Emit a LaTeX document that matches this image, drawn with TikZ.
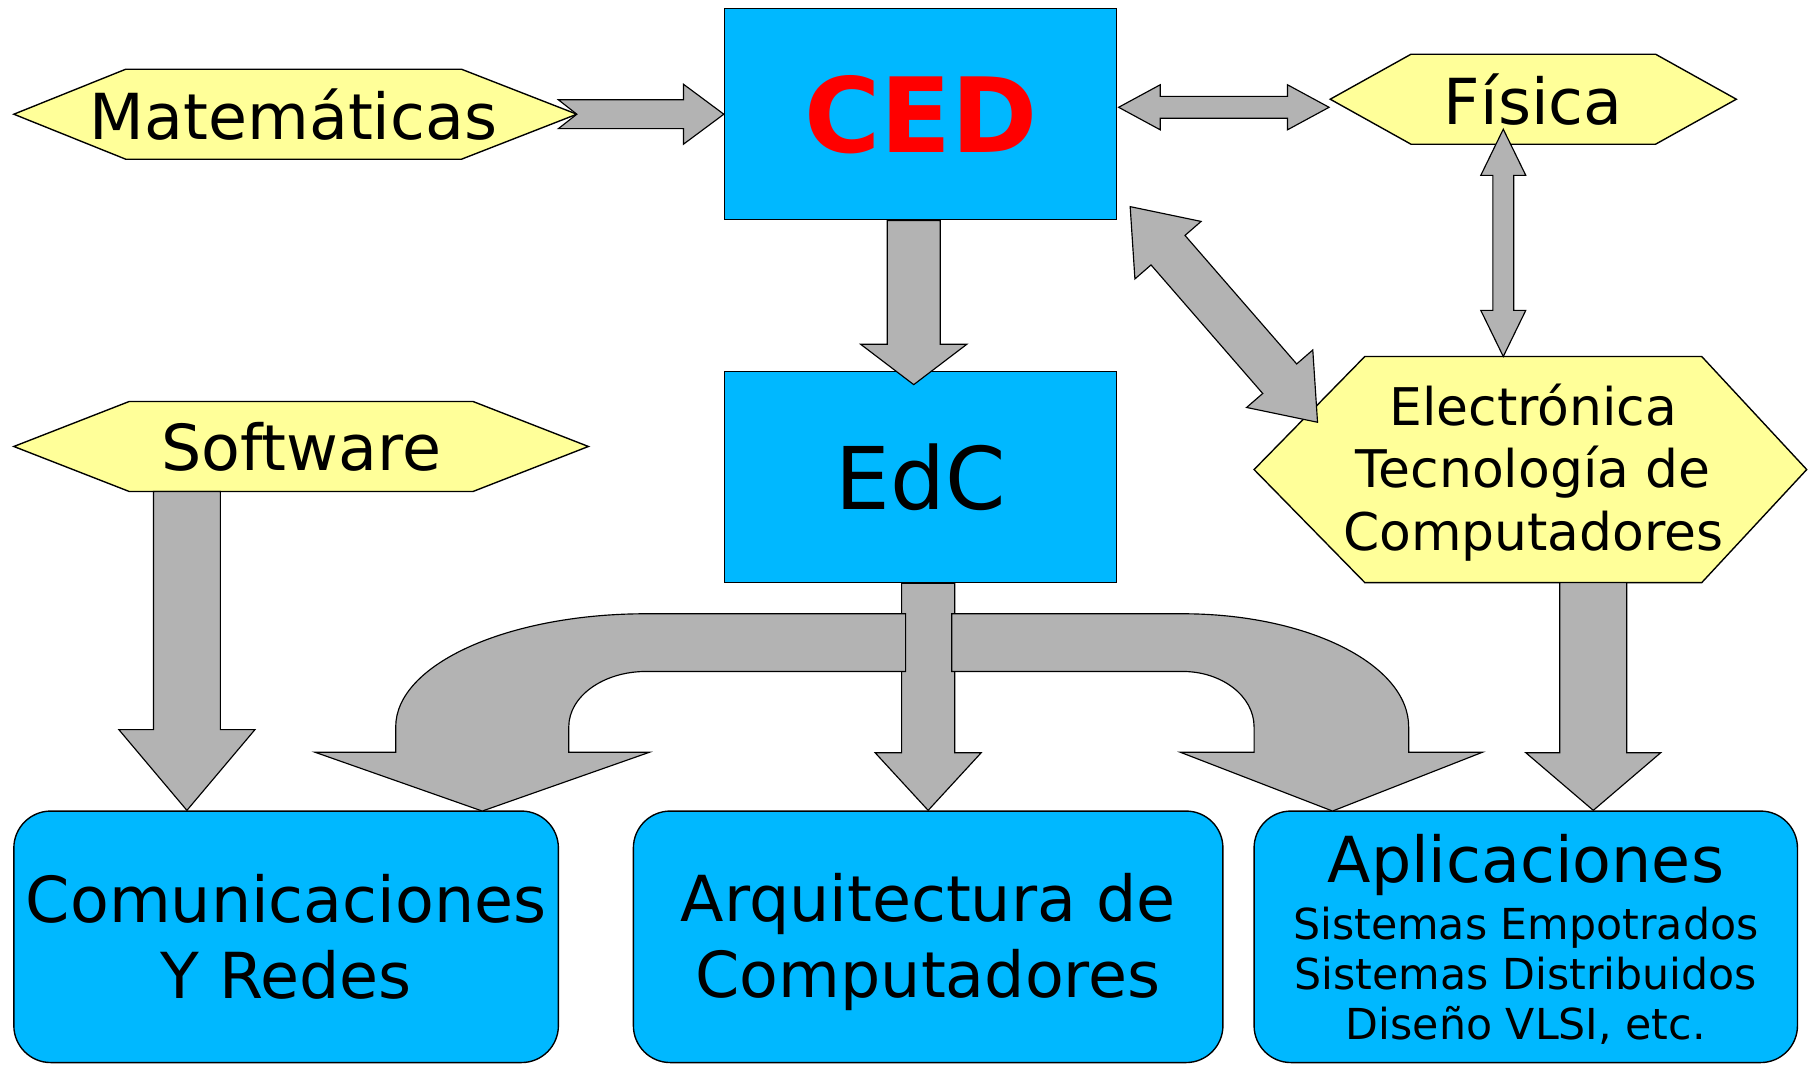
\documentclass[tikz,border=0pt]{standalone}
\usepackage{fontspec}
\setmainfont{DejaVu Sans}
\usetikzlibrary{calc}
\definecolor{boxblue}{RGB}{0,184,255}
\definecolor{hexyellow}{RGB}{255,255,153}
\definecolor{arrowgray}{RGB}{179,179,179}
\tikzset{
  blk/.style={draw=black, fill=arrowgray, line width=1pt, line join=miter},
  hexa/.style={draw=black, fill=hexyellow, line width=1.2pt},
  hexlabel/.style={font=\fontsize{55}{66}\selectfont, inner sep=0pt, align=center},
  sqbox/.style={draw=black, fill=boxblue, line width=1.2pt, minimum width=340pt, minimum height=183pt, inner sep=0pt},
  rbox/.style={draw=black, fill=boxblue, line width=1.2pt, rounded corners=32pt, minimum height=218pt, inner sep=0pt, align=center, font=\fontsize{55}{66}\selectfont}
}
% hexagon label: [opts](name)(centre)(half flat:half height:left tip:right tip){text}
\def\hexnode[#1](#2)(#3)(#4:#5:#6:#7)#8{%
  \coordinate (#2) at (#3);
  \draw[hexa] ($(#2)+(-#4-#6,0)$) coordinate (#2-w) -- ($(#2)+(-#4,-#5)$) -- ($(#2)+(#4,-#5)$) -- ($(#2)+(#4+#7,0)$) coordinate (#2-e) -- ($(#2)+(#4,#5)$) -- ($(#2)+(-#4,#5)$) -- cycle;
  \coordinate (#2-n) at ($(#2)+(0,-#5)$);
  \coordinate (#2-s) at ($(#2)+(0,#5)$);
  \node[hexlabel,#1] (#2) at (#2) {#8};}
% block arrow: (tail)(tip)(shaft:head:head length:notch)
\def\blkarrow(#1)(#2)(#3:#4:#5:#6){%
  \draw[blk] ($(#1)!#3!90:(#2)$)
    -- ($(#2)!#5!(#1)!#3!90:(#2)$)
    -- ($(#2)!#5!(#1)!#4!90:(#2)$)
    -- (#2)
    -- ($(#2)!#5!(#1)!#4!-90:(#2)$)
    -- ($(#2)!#5!(#1)!#3!-90:(#2)$)
    -- ($(#1)!#3!-90:(#2)$)
    -- ($(#1)!#6!(#2)$) -- cycle;}
% double block arrow: (end)(end)(shaft:head:head length)
\def\blkdarrow(#1)(#2)(#3:#4:#5){%
  \draw[blk] (#1)
    -- ($(#1)!#5!(#2)!#4!90:(#2)$)
    -- ($(#1)!#5!(#2)!#3!90:(#2)$)
    -- ($(#2)!#5!(#1)!#3!90:(#2)$)
    -- ($(#2)!#5!(#1)!#4!90:(#2)$)
    -- (#2)
    -- ($(#2)!#5!(#1)!#4!-90:(#2)$)
    -- ($(#2)!#5!(#1)!#3!-90:(#2)$)
    -- ($(#1)!#5!(#2)!#3!-90:(#2)$)
    -- ($(#1)!#5!(#2)!#4!-90:(#2)$)
    -- cycle;}

\begin{document}
\begin{tikzpicture}[x=1pt,y=-1pt]
	\useasboundingbox (0,0) rectangle (1568,923);
	
	\node[sqbox, font=\fontsize{90}{90}\selectfont\bfseries, text=red] (ced) at (798,99) {CED};
	\node[sqbox, font=\fontsize{75}{75}\selectfont] (edc) at (798,413.5) {EdC};
	
	\hexnode[](mat)(254.5,99)(145.5:39:97:100){Matemáticas};
	\hexnode[](fis)(1329,86)(106:39:70:70){Física};
	\hexnode[](sof)(261,387)(149:39:100:100){Software};
	\hexnode[font=\fontsize{45}{54}\selectfont, text depth=4.5pt](ele)(1329,407)(146:98:96:91){Electrónica\\Tecnología de\\Computadores};
	
	\node[rbox, minimum width=472pt] (com) at (248,812) {Comunicaciones\\Y Redes};
	\node[rbox, minimum width=511pt, text depth=3pt] (arq) at (804.5,812) {Arquitectura de\\Computadores};
	\node[rbox, minimum width=471pt, text depth=-3pt, font=\fontsize{37}{43.5}\selectfont] (apl) at (1322.5,812)
		{{\fontsize{55}{66}\selectfont Aplicaciones}\\[6pt]Sistemas Empotrados\\Sistemas Distribuidos\\Diseño VLSI, etc.};
	
	% top arrows
	\coordinate (matT) at ($(mat-e)+(-16,0)$);
	\blkarrow(matT)(ced.west)(12.5pt:26pt:35pt:16pt);
	\coordinate (cfA) at ($(ced.east)+(1,-6)$);
	\coordinate (cfB) at ($(fis-w)+(-1,7)$);
	\blkdarrow(cfA)(cfB)(9.5pt:19.5pt:36pt);
	\coordinate (ceA) at ($(ced.south)+(-6,0)$);
	\coordinate (ceB) at ($(edc.north)+(-6,12)$);
	\blkarrow(ceA)(ceB)(23pt:46pt:35pt:0pt);
	\coordinate (feA) at ($(fis-s)+(-26,-13)$);
	\coordinate (feB) at (feA |- ele-n);
	\blkdarrow(feA)(feB)(9pt:19.5pt:40pt);
	\coordinate (diagA) at ($(ced.south east)+(11,-12)$);
	\coordinate (diagB) at ($(ele-w)+(55,-41)$);
	\blkdarrow(diagA)(diagB)(19.5pt:38pt:50pt);
	
	% bottom arrows
	\coordinate (scA) at ($(sof-s)+(-99,0)$);
	\coordinate (scB) at (scA |- com.north);
	\blkarrow(scA)(scB)(29pt:59pt:70pt:0pt);
	\coordinate (eaA) at ($(ele-s)+(52,0)$);
	\coordinate (eaB) at (eaA |- apl.north);
	\blkarrow(eaA)(eaB)(29pt:58.5pt:50pt:0pt);
	\coordinate (daA) at (arq.north |- edc.south);
	\blkarrow(daA)(arq.north)(23pt:46pt:50pt:0pt);
	
	% curved arrows from EdC
	\draw[blk] (785,532) -- (560,532) arc[start angle=270, end angle=180, x radius=217, y radius=98]
		-- (343,652) -- (273,652) -- (418,703) -- (563,652) -- (493,652) -- (493,630)
		arc[start angle=180, end angle=270, x radius=67, y radius=48] -- (785,582) -- cycle;
	\draw[blk] (825,532) -- (1025,532) arc[start angle=270, end angle=360, x radius=196, y radius=98]
		-- (1221,652) -- (1285,652) -- (1155,703) -- (1023,652) -- (1087,652) -- (1087,630)
		arc[start angle=0, end angle=-90, x radius=62, y radius=48] -- (825,582) -- cycle;
\end{tikzpicture}
\end{document}
